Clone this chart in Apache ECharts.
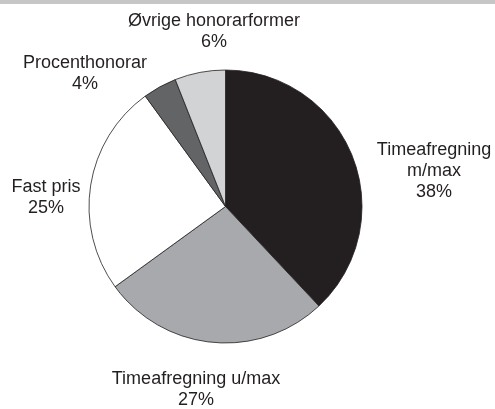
<!DOCTYPE html>
<html>
<head>
<meta charset="utf-8">
<script src="https://cdn.jsdelivr.net/npm/echarts@6/dist/echarts.min.js"></script>
<style>
  html, body { margin: 0; padding: 0; background: #fff; }
  #chart { width: 495px; height: 409px; }
</style>
</head>
<body>
<div id="chart"></div>
<script>
// honorarformer, clockwise from 12 o'clock
var categories = ['Timeafregning\nm/max', 'Timeafregning u/max', 'Fast pris', 'Procenthonorar', 'Øvrige honorarformer'];
var shares = [38, 27, 25, 4, 6];
var sliceColors = ['#231f20', '#a7a9ac', '#ffffff', '#636466', '#d1d3d4'];
// where each label block is centred (px)
var labelAnchors = [[434, 171], [196, 390], [46, 198], [85, 74], [214, 32]];

var option = {
    animation: false,
    graphic: [{
        type: 'rect',
        left: 0,
        top: 0,
        shape: { width: 495, height: 4 },
        style: { fill: '#c6c6c6' }
    }],
    series: [{
        type: 'pie',
        center: [225.5, 206.5],
        radius: 136.5,
        startAngle: 90,
        clockwise: true,
        avoidLabelOverlap: false,
        itemStyle: {
            borderColor: '#231f20',
            borderWidth: 0.8
        },
        label: {
            show: true,
            position: 'outside',
            formatter: '{b}\n{c}%',
            fontFamily: 'Liberation Sans',
            fontSize: 18,
            lineHeight: 21,
            color: '#231f20'
        },
        labelLine: { show: false },
        labelLayout: function (p) {
            var a = labelAnchors[p.dataIndex];
            return { x: a[0], y: a[1], align: 'center', verticalAlign: 'middle' };
        },
        emphasis: { disabled: true },
        data: categories.map(function (c, i) {
            return { name: c, value: shares[i], itemStyle: { color: sliceColors[i] } };
        })
    }]
};

var myChart = echarts.init(document.getElementById('chart'));
myChart.setOption(option);
</script>
</body>
</html>
